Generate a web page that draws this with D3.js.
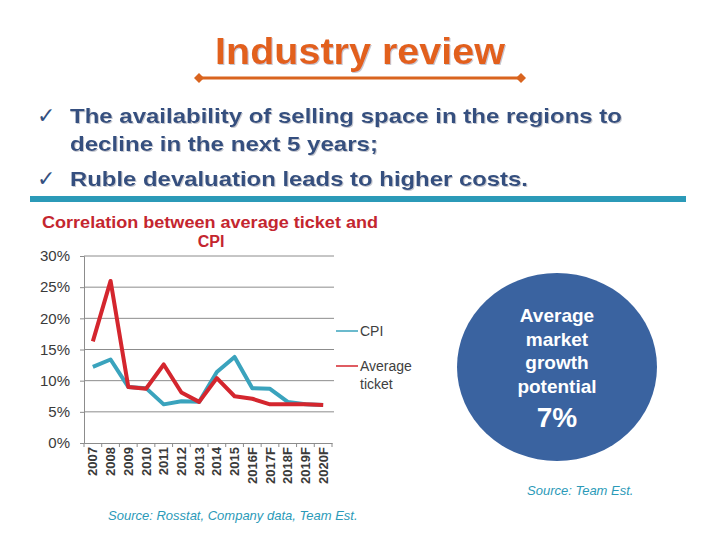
<!DOCTYPE html>
<html><head><meta charset="utf-8">
<script src="https://cdn.jsdelivr.net/npm/d3@7"></script>
<style>html,body{margin:0;padding:0;background:#fff;}svg{display:block;}</style>
</head><body>
<svg id="chart" width="720" height="540"></svg>
<script>
const categories = ["2007","2008","2009","2010","2011","2012","2013","2014","2015","2016F","2017F","2018F","2019F","2020F"];
const cpiValues = [12.2,13.4,9.0,8.8,6.2,6.7,6.6,11.4,13.8,8.8,8.7,6.6,6.2,6.1];
const ticketValues = [16.3,26.0,9.0,8.7,12.6,8.1,6.6,10.4,7.5,7.1,6.2,6.2,6.2,6.1];
const yTicks = [0,5,10,15,20,25,30];
const seriesNames = ["CPI","Average ticket"];
const bullets = [
  ["The availability of selling space in the regions to","decline in the next 5 years;"],
  ["Ruble devaluation leads to higher costs."]
];
const circleLines = ["Average","market","growth","potential"];
const circleValue = "7%";

const svg = d3.select("#chart");
const font = "Liberation Sans, Arial, Helvetica, sans-serif";

const defs = svg.append("defs");
defs.append("filter").attr("id","shadow").attr("x","-5%").attr("y","-20%").attr("width","110%").attr("height","150%")
  .append("feDropShadow").attr("dx",1).attr("dy",1).attr("stdDeviation",0.6).attr("flood-color","#b8bcc6").attr("flood-opacity",0.8);

// Title
svg.append("text").attr("x",360).attr("y",64).attr("text-anchor","middle")
  .attr("font-family",font).attr("font-weight","bold").attr("font-size",36)
  .attr("fill","#e2611f").attr("filter","url(#shadow)")
  .attr("textLength",290).attr("lengthAdjust","spacingAndGlyphs").text("Industry review");
svg.append("line").attr("x1",199).attr("x2",521).attr("y1",78).attr("y2",78)
  .attr("stroke","#d9641f").attr("stroke-width",3);
[199,521].forEach(x=>{
  svg.append("path").attr("d",`M${x-5},78L${x},73L${x+5},78L${x},83Z`).attr("fill","#d9641f");
});

// Bullets
const bulletColor = "#34507f";
const by = [123,151,186];
const widths = [552,308,458];
let li = 0;
bullets.forEach((b)=>{
  svg.append("text").attr("x",37).attr("y",by[li]).attr("font-family","DejaVu Sans, sans-serif")
    .attr("font-size",22).attr("fill",bulletColor).text("\u2713");
  b.forEach((line)=>{
    svg.append("text").attr("x",70).attr("y",by[li]).attr("font-family",font).attr("font-weight","bold")
      .attr("font-size",21).attr("fill",bulletColor).attr("filter","url(#shadow)")
      .attr("textLength",widths[li]).attr("lengthAdjust","spacingAndGlyphs").text(line);
    li++;
  });
});
svg.append("rect").attr("x",30).attr("y",196).attr("width",656).attr("height",6).attr("fill","#2b9ab8");

// Chart title
svg.append("text").attr("x",210).attr("y",228).attr("text-anchor","middle")
  .attr("font-family",font).attr("font-weight","bold").attr("font-size",16).attr("fill","#c4262f")
  .attr("textLength",336).attr("lengthAdjust","spacingAndGlyphs").text("Correlation between average ticket and");
svg.append("text").attr("x",211).attr("y",247).attr("text-anchor","middle")
  .attr("font-family",font).attr("font-weight","bold").attr("font-size",16).attr("fill","#c4262f").text("CPI");

// Scales
const x0 = 84, x1 = 332, yBottom = 443, yTop = 256;
const x = d3.scaleBand().domain(categories).range([x0,x1]);
const y = d3.scaleLinear().domain([0,30]).range([yBottom,yTop]);

// Gridlines
svg.append("g").selectAll("line").data(yTicks.filter(d=>d>0)).join("line")
  .attr("x1",x0).attr("x2",x1+2).attr("y1",d=>y(d)).attr("y2",d=>y(d))
  .attr("stroke","#8c8c8c").attr("stroke-width",1);

// Y axis
const yAxis = svg.append("g").attr("transform",`translate(${x0},0)`)
  .call(d3.axisLeft(y).tickValues(yTicks).tickFormat(d=>d+"%").tickSize(4).tickPadding(10));
yAxis.select(".domain").attr("stroke","#8c8c8c");
yAxis.selectAll(".tick line").attr("stroke","#8c8c8c");
yAxis.selectAll("text").attr("font-family",font).attr("font-size",15).attr("fill","#3a3a3a");

// X axis
const xAxis = svg.append("g").attr("transform",`translate(0,${yBottom})`)
  .call(d3.axisBottom(x).tickSize(0).tickPadding(4));
xAxis.select(".domain").attr("stroke","#8c8c8c");
xAxis.selectAll(".tick text").attr("font-family",font).attr("font-weight","bold").attr("font-size",13)
  .attr("fill","#3a3a3a").attr("text-anchor","end").attr("dy","0.35em")
  .attr("transform","rotate(-90)").attr("x",-4).attr("y",0);
svg.append("g").selectAll("line").data(d3.range(categories.length+1)).join("line")
  .attr("x1",i=>x0+i*x.step()).attr("x2",i=>x0+i*x.step()).attr("y1",yBottom).attr("y2",yBottom+4)
  .attr("stroke","#8c8c8c");

// Lines
const line = d3.line().x((d,i)=>x(categories[i])+x.bandwidth()/2).y(d=>y(d));
svg.append("path").datum(cpiValues).attr("d",line).attr("fill","none")
  .attr("stroke","#3aa3bd").attr("stroke-width",4).attr("stroke-linejoin","round");
svg.append("path").datum(ticketValues).attr("d",line).attr("fill","none")
  .attr("stroke","#d4262e").attr("stroke-width",4).attr("stroke-linejoin","round");

// Legend
const legendColors = ["#3aa3bd","#d4262e"];
const legY = [331,366];
seriesNames.forEach((n,i)=>{
  svg.append("line").attr("x1",336).attr("x2",358).attr("y1",legY[i]).attr("y2",legY[i])
    .attr("stroke",legendColors[i]).attr("stroke-width",1.5);
  const words = n === "Average ticket" ? ["Average","ticket"] : [n];
  words.forEach((w,j)=>{
    svg.append("text").attr("x",360).attr("y",legY[i]+5+j*18).attr("font-family",font)
      .attr("font-size",14).attr("fill","#404040").text(w);
  });
});

// Circle
svg.append("ellipse").attr("cx",557).attr("cy",367).attr("rx",100).attr("ry",94).attr("fill","#3a63a0");
const cy0 = [322,346,369,393];
circleLines.forEach((t,i)=>{
  svg.append("text").attr("x",557).attr("y",cy0[i]).attr("text-anchor","middle")
    .attr("font-family",font).attr("font-weight","bold").attr("font-size",19).attr("fill","#ffffff").text(t);
});
svg.append("text").attr("x",557).attr("y",427).attr("text-anchor","middle")
  .attr("font-family",font).attr("font-weight","bold").attr("font-size",28).attr("fill","#ffffff").text(circleValue);

// Sources
svg.append("text").attr("x",527).attr("y",495).attr("font-family",font).attr("font-style","italic")
  .attr("font-size",13).attr("fill","#2b9ab8").text("Source: Team Est.");
svg.append("text").attr("x",108).attr("y",520).attr("font-family",font).attr("font-style","italic")
  .attr("font-size",13).attr("fill","#2b9ab8").text("Source: Rosstat, Company data, Team Est.");
</script>
</body></html>
